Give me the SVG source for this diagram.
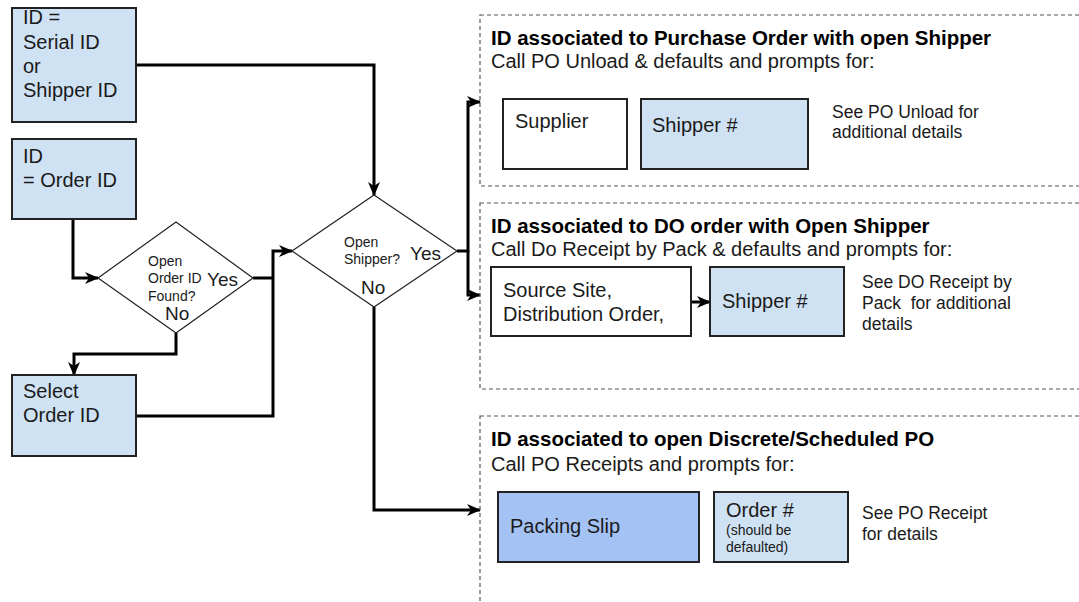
<svg xmlns="http://www.w3.org/2000/svg" width="1079" height="602" viewBox="0 0 1079 602">
<style>
text{font-family:"Liberation Sans",Arial,sans-serif;fill:#1a1a1a}
.box{fill:#cfe2f3;stroke:#222;stroke-width:2}
.wbox{fill:#fff;stroke:#222;stroke-width:2}
.dbox{fill:#a4c2f4;stroke:#222;stroke-width:2}
.dia{fill:#fff;stroke:#222;stroke-width:1.2}
.grp{fill:none;stroke:#555;stroke-width:1.2;stroke-dasharray:4 3}
.t20{font-size:20px}
.b20{font-size:20.5px;font-weight:bold;fill:#000}
.t17{font-size:17.5px}
.t14{font-size:14px}
.t19{font-size:19px}
.c{fill:none;stroke:#000;stroke-width:3}
.cm{marker-end:url(#ah)}
</style>
<defs>
<marker id="ah" markerUnits="userSpaceOnUse" markerWidth="14" markerHeight="12" refX="13" refY="6" orient="auto">
<path d="M0,0 L14,6 L0,12 L4,6 z" fill="#000"/>
</marker>
</defs>
<rect width="1079" height="602" fill="#fff"/>

<g id="connectors">
<polyline class="c cm" points="136,65 374,65 374,195"/>
<polyline class="c cm" points="73,219 73,278 98,278"/>
<polyline class="c cm" points="176,333 176,354 74,354 74,375"/>
<polyline class="c" points="253,278 273,278"/>
<polyline class="c cm" points="136,416 273,416 273,251 292,251"/>
<polyline class="c cm" points="374,307 374,510 480,510"/>
<polyline class="c cm" points="457,251 468,251 468,102 480,102"/>
<polyline class="c cm" points="468,251 468,295 480,295"/>
<polyline class="c cm" points="691,302 710,302"/>
</g>

<g id="node-serial-id">
<rect class="box" x="12" y="8" width="124" height="114"/>
<text class="t20" x="23" y="24">ID =</text>
<text class="t20" x="23" y="49">Serial ID</text>
<text class="t20" x="23" y="73">or</text>
<text class="t20" x="23" y="97">Shipper ID</text>
</g>

<g id="node-order-id">
<rect class="box" x="12" y="139" width="124" height="80"/>
<text class="t20" x="23" y="163">ID</text>
<text class="t20" x="23" y="187">= Order ID</text>
</g>

<g id="node-select-order">
<rect class="box" x="12" y="375" width="124" height="81"/>
<text class="t20" x="23" y="398">Select</text>
<text class="t20" x="23" y="422">Order ID</text>
</g>

<g id="node-open-order-found">
<polygon class="dia" points="98,278 176,222 253,278 176,333"/>
<text class="t14" x="148" y="266">Open</text>
<text class="t14" x="148" y="283">Order ID</text>
<text class="t14" x="148" y="301">Found?</text>
<text class="t19" x="207" y="286">Yes</text>
<text class="t19" x="165" y="320">No</text>
</g>

<g id="node-open-shipper">
<polygon class="dia" points="292,251 374,195 457,251 374,307"/>
<text class="t14" x="344" y="247">Open</text>
<text class="t14" x="344" y="264">Shipper?</text>
<text class="t19" x="410" y="260">Yes</text>
<text class="t19" x="361" y="294">No</text>
</g>

<g id="group-po-unload">
<rect class="grp" x="480" y="15" width="610" height="171"/>
<text class="b20" x="491" y="45">ID associated to Purchase Order with open Shipper</text>
<text class="t20" x="491" y="68">Call PO Unload &amp; defaults and prompts for:</text>
<g id="node-supplier">
<rect class="wbox" x="503" y="99" width="124" height="70"/>
<text class="t20" x="515" y="128">Supplier</text>
</g>
<g id="node-shipper-1">
<rect class="box" x="641" y="99" width="167" height="70"/>
<text class="t20" x="652" y="132">Shipper #</text>
</g>
<text class="t17" x="832" y="118">See PO Unload for</text>
<text class="t17" x="832" y="138">additional details</text>
</g>

<g id="group-do-receipt">
<rect class="grp" x="480" y="203" width="610" height="186"/>
<text class="b20" x="491" y="233">ID associated to DO order with Open Shipper</text>
<text class="t20" x="491" y="256">Call Do Receipt by Pack &amp; defaults and prompts for:</text>
<g id="node-source-site">
<rect class="wbox" x="491" y="267" width="200" height="69"/>
<text class="t20" x="503" y="297">Source Site,</text>
<text class="t20" x="503" y="321">Distribution Order,</text>
</g>
<g id="node-shipper-2">
<rect class="box" x="710" y="267" width="134" height="69"/>
<text class="t20" x="722" y="308">Shipper #</text>
</g>
<text class="t17" x="862" y="288">See DO Receipt by</text>
<text class="t17" x="862" y="309" xml:space="preserve">Pack  for additional</text>
<text class="t17" x="862" y="330">details</text>
</g>

<g id="group-po-receipts">
<rect class="grp" x="480" y="416" width="610" height="200"/>
<text class="b20" x="491" y="446">ID associated to open Discrete/Scheduled PO</text>
<text class="t20" x="491" y="471">Call PO Receipts and prompts for:</text>
<g id="node-packing-slip">
<rect class="dbox" x="498" y="492" width="201" height="70"/>
<text class="t20" x="510" y="533">Packing Slip</text>
</g>
<g id="node-order-num">
<rect class="box" x="714" y="492" width="134" height="70"/>
<text class="t20" x="726" y="517">Order #</text>
<text class="t14" x="726" y="535">(should be</text>
<text class="t14" x="726" y="552">defaulted)</text>
</g>
<text class="t17" x="862" y="519">See PO Receipt</text>
<text class="t17" x="862" y="540">for details</text>
</g>
</svg>
